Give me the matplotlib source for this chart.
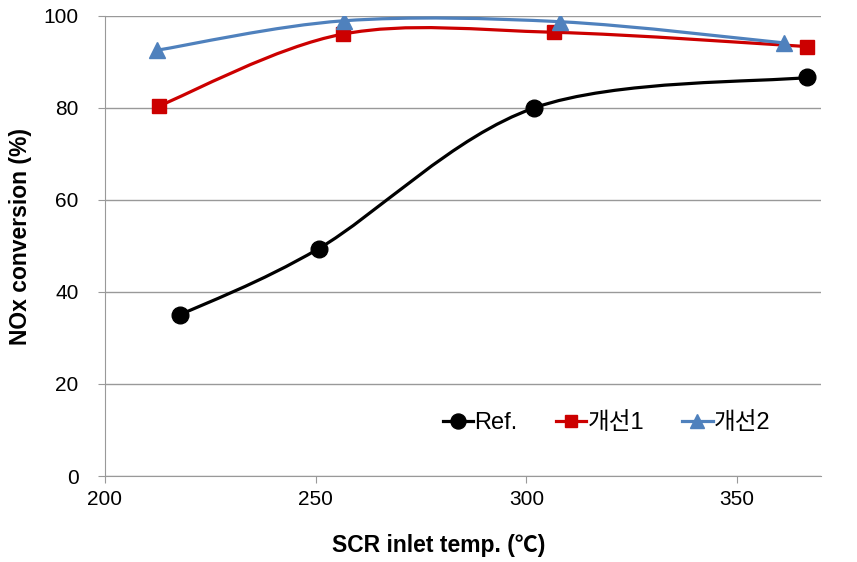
import matplotlib
matplotlib.use("Agg")
import matplotlib.pyplot as plt
from matplotlib.path import Path
from matplotlib.patches import PathPatch
import numpy as np

plt.rcParams['font.family'] = ['Liberation Sans', 'Noto Sans CJK KR', 'DejaVu Sans']

# data
labels = ["Ref.", "개선1", "개선2"]
ref_x = [217.8, 250.7, 301.9, 366.6]
ref_y = [35.0, 49.4, 80.0, 86.6]
imp1_x = [212.8, 256.4, 306.6, 366.6]
imp1_y = [80.4, 96.0, 96.4, 93.3]
imp2_x = [212.3, 256.6, 308.0, 361.1]
imp2_y = [92.5, 98.9, 98.7, 94.1]

colors = ["#000000", "#CC0000", "#4F81BD"]
markers = ["o", "s", "^"]
msizes = [12, 10, 11]


def smooth_path(xs, ys):
    # Excel-style smoothed line: cubic Bezier through points (Catmull-Rom, tension 1/6)
    pts = np.column_stack([xs, ys])
    n = len(pts)
    verts = [pts[0]]
    codes = [Path.MOVETO]
    for i in range(n - 1):
        p0 = pts[i - 1] if i > 0 else pts[i]
        p1 = pts[i]
        p2 = pts[i + 1]
        p3 = pts[i + 2] if i + 2 < n else pts[i + 1]
        c1 = p1 + (p2 - p0) / 6.0
        c2 = p2 - (p3 - p1) / 6.0
        verts += [c1, c2, p2]
        codes += [Path.CURVE4] * 3
    return Path(verts, codes)


fig = plt.figure(figsize=(8.57, 5.62), dpi=100)
ax = fig.add_axes([0.1225, 0.153, 0.836, 0.819])

series = [(ref_x, ref_y), (imp1_x, imp1_y), (imp2_x, imp2_y)]
handles = []
for (xs, ys), lab, c, m, ms in zip(series, labels, colors, markers, msizes):
    patch = PathPatch(smooth_path(xs, ys), facecolor="none", edgecolor=c, lw=2.3, zorder=3)
    ax.add_patch(patch)
    ax.plot(xs, ys, ls="none", marker=m, ms=ms, color=c, zorder=4)
    h, = ax.plot([], [], color=c, lw=2.3, marker=m, ms=ms * 0.9, label=lab)
    handles.append(h)

ax.set_xlim(200, 370)
ax.set_ylim(0, 100)
ax.set_xticks([200, 250, 300, 350])
ax.set_yticks([0, 20, 40, 60, 80, 100])
ax.yaxis.grid(True, color="#999999", lw=1)
ax.set_axisbelow(True)

for s in ["top", "right"]:
    ax.spines[s].set_visible(False)
for s in ["left", "bottom"]:
    ax.spines[s].set_color("#999999")
ax.tick_params(axis="both", colors="#999999", labelcolor="black", labelsize=15, length=5)
ax.tick_params(axis="y", pad=14)
ax.tick_params(axis="x", pad=5)

ax.set_xlabel("SCR inlet temp. (℃)", fontsize=16.5, fontweight="bold", va="center")
ax.set_ylabel("NOx conversion (%)", fontsize=16.5, fontweight="bold", va="center")
ax.xaxis.set_label_coords(0.466, -0.15)
ax.yaxis.set_label_coords(-0.118, 0.52)

ax.legend(handles=handles, loc="center", bbox_to_anchor=(0.70, 0.115), ncol=3,
          frameon=False, fontsize=17, handlelength=1.3, handletextpad=0.05, columnspacing=1.6)

fig.savefig("out.png", dpi=100)
